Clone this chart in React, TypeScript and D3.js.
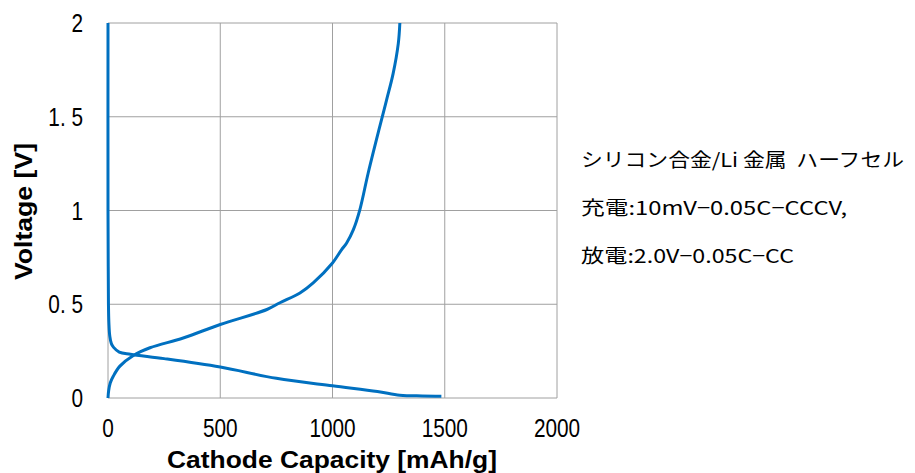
import React, { useEffect, useRef } from 'react';
import * as d3 from 'd3';

const width = 915;
const height = 473;
const margin = { left: 108, right: 358, top: 23, bottom: 75 };

const xTicks = [0, 500, 1000, 1500, 2000];
const yTicks = [0, 0.5, 1, 1.5, 2];
const yTickLabels = ['0', '0. 5', '1', '1. 5', '2'];

// discharge (lithiation) curve: capacity, voltage
const dischargeCap = [0, 0, 1, 2, 4, 8, 15, 25, 50, 100, 250, 500, 750, 1000, 1200, 1300, 1400, 1485];
const dischargeV = [2.0, 1.0, 0.7, 0.5, 0.4, 0.33, 0.29, 0.27, 0.245, 0.233, 0.21, 0.165, 0.105, 0.065, 0.035, 0.015, 0.011, 0.01];

// charge (delithiation) curve
const chargeCap = [0, 3, 10, 24, 53, 113, 187, 335, 500, 708, 766, 855, 914, 1000, 1040, 1063, 1093, 1122, 1159, 1211, 1241, 1270, 1293, 1300];
const chargeV = [0, 0.04, 0.08, 0.117, 0.17, 0.227, 0.268, 0.32, 0.392, 0.472, 0.508, 0.56, 0.614, 0.72, 0.79, 0.827, 0.898, 1.005, 1.2, 1.45, 1.59, 1.73, 1.89, 2.0];

const notes = ['シリコン合金/Li 金属\u00a0\u00a0ハーフセル', '充電:10mV−0.05C−CCCV,', '放電:2.0V−0.05C−CC'];
const noteWidths = [323, 266, 213];

const tickFont = '"Liberation Sans", Arial, sans-serif';
const titleFont = '"Liberation Sans", Arial, sans-serif';
const noteFont = '"Noto Sans CJK JP", "Noto Sans", sans-serif';
const lineColor = '#0070C0';

export default function App() {
  const ref = useRef<SVGSVGElement>(null);

  useEffect(() => {
    const svg = d3.select(ref.current);
    svg.selectAll('*').remove();

    const x = d3.scaleLinear().domain([0, 2000]).range([margin.left, width - margin.right]);
    const y = d3.scaleLinear().domain([0, 2]).range([height - margin.bottom, margin.top]);

    const grid = svg.append('g');
    grid.selectAll('line.v')
      .data(xTicks)
      .enter().append('line')
      .attr('x1', d => x(d)).attr('x2', d => x(d))
      .attr('y1', y(0)).attr('y2', y(2))
      .attr('stroke', '#a0a0a0').attr('stroke-width', 1);
    grid.selectAll('line.h')
      .data(yTicks)
      .enter().append('line')
      .attr('x1', x(0)).attr('x2', x(2000))
      .attr('y1', d => y(d)).attr('y2', d => y(d))
      .attr('stroke', '#a0a0a0').attr('stroke-width', 1);

    // tick labels: tall narrow digits
    svg.append('g').selectAll('text')
      .data(xTicks)
      .enter().append('text')
      .attr('transform', d => `translate(${x(d)}, ${y(0) + 39}) scale(0.8, 1)`)
      .attr('text-anchor', 'middle')
      .style('font-family', tickFont)
      .style('font-size', '26px')
      .text(d => String(d));

    svg.append('g').selectAll('text')
      .data(yTicks)
      .enter().append('text')
      .attr('transform', d => `translate(${x(0) - 25}, ${y(d) + 9}) scale(0.8, 1)`)
      .attr('text-anchor', 'end')
      .style('font-family', tickFont)
      .style('font-size', '26px')
      .text((d, i) => yTickLabels[i]);

    // axis titles
    svg.append('text')
      .attr('x', 167)
      .attr('y', 468)
      .attr('textLength', 330)
      .attr('lengthAdjust', 'spacingAndGlyphs')
      .style('font-family', titleFont)
      .style('font-weight', 'bold')
      .style('font-size', '24px')
      .text('Cathode Capacity [mAh/g]');

    svg.append('text')
      .attr('transform', `translate(32, 280) rotate(-90)`)
      .attr('textLength', 137)
      .attr('lengthAdjust', 'spacingAndGlyphs')
      .style('font-family', titleFont)
      .style('font-weight', 'bold')
      .style('font-size', '24px')
      .text('Voltage [V]');

    const line = d3.line<number>()
      .curve(d3.curveCatmullRom.alpha(0.5));

    const drawCurve = (cap: number[], v: number[]) => {
      svg.append('path')
        .attr('fill', 'none')
        .attr('stroke', lineColor)
        .attr('stroke-width', 3)
        .attr('stroke-linejoin', 'round')
        .attr('d', line.x((d, i) => x(cap[i])).y((d, i) => y(v[i]))(cap));
    };
    drawCurve(dischargeCap, dischargeV);
    drawCurve(chargeCap, chargeV);

    svg.append('g').selectAll('text')
      .data(notes)
      .enter().append('text')
      .attr('x', 581)
      .attr('y', (d, i) => 167 + i * 48)
      .attr('textLength', (d, i) => noteWidths[i])
      .attr('lengthAdjust', 'spacingAndGlyphs')
      .style('font-family', noteFont)
      .style('font-size', '19px')
      .text(d => d);
  }, []);

  return (
    <svg
      ref={ref}
      width={width}
      height={height}
      style={{ position: 'absolute', left: 0, top: 0, background: '#fff' }}
    />
  );
}
